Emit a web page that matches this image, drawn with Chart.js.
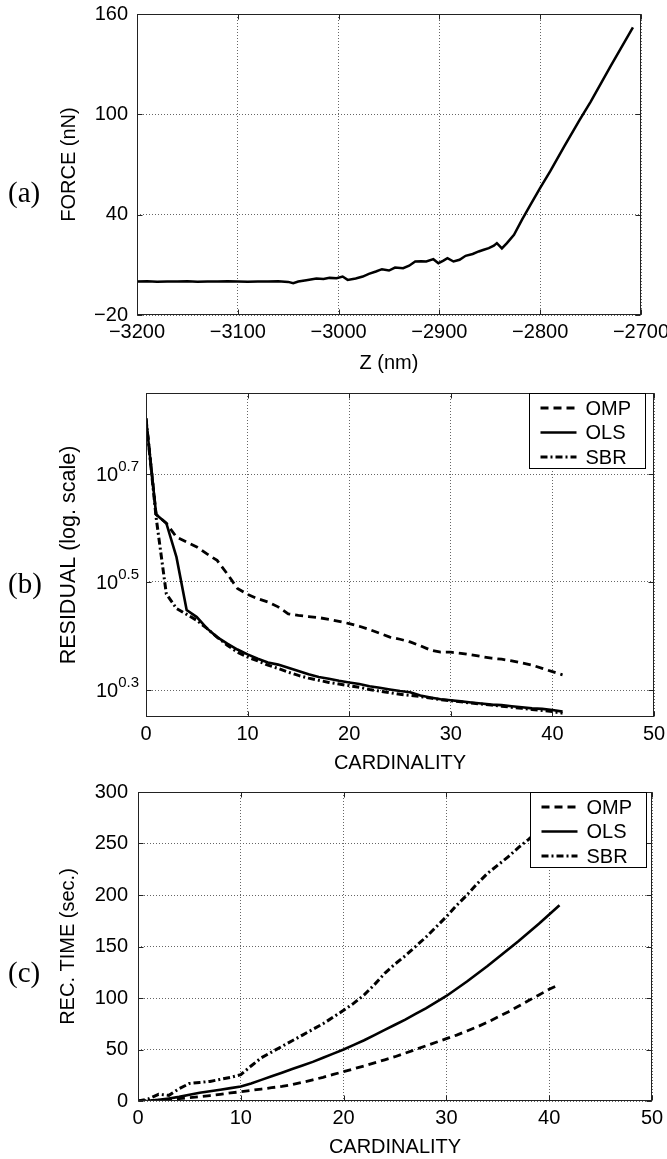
<!DOCTYPE html>
<html>
<head>
<meta charset="utf-8">
<script src="https://cdn.jsdelivr.net/npm/chart.js@4.4.0/dist/chart.umd.min.js"></script>
<style>
body { margin: 0; background: #fff; width: 667px; height: 1159px; position: relative; overflow: hidden; }
canvas { position: absolute; left: 0; }
.tag { position: absolute; left: 8px; font: 29px "Liberation Serif", "Times New Roman", serif; line-height: 30px; color: #000; }
</style>
</head>
<body>
<canvas id="chartA" width="667" height="385" style="top:0"></canvas>
<canvas id="chartB" width="667" height="400" style="top:375px"></canvas>
<canvas id="chartC" width="667" height="394" style="top:765px"></canvas>
<div class="tag" style="top:177px">(a)</div>
<div class="tag" style="top:568px">(b)</div>
<div class="tag" style="top:957px">(c)</div>
<script>
// (a) force curve
const zNm = [-3200, -3190, -3180, -3170, -3160, -3150, -3140, -3130, -3120, -3110, -3100, -3090, -3080, -3070, -3060, -3050,
  -3045, -3040, -3032, -3022, -3015, -3009, -3002, -2996, -2991, -2983, -2976, -2970, -2963, -2957, -2950, -2944, -2936,
  -2930, -2924, -2918, -2913, -2906, -2901, -2896, -2892, -2886, -2880, -2874, -2867, -2861, -2856, -2851, -2846, -2843,
  -2838, -2833, -2826, -2818, -2810, -2800, -2790, -2776, -2761, -2750, -2730, -2720, -2708];
const forceNn = [0, 0.2, -0.1, 0.1, 0, 0.2, -0.1, 0.1, 0, 0.2, 0, -0.1, 0.1, 0, 0.2, -0.2,
  -1, 0, 0.8, 1.8, 1.5, 2.2, 2.0, 3, 1, 1.8, 3, 4.6, 6, 7.4, 6.6, 8.4, 8,
  9.5, 12, 12.2, 12, 13.4, 11, 12.5, 14, 12, 13, 15.4, 16.5, 18, 19, 20, 21.5, 23,
  19.8, 23, 28, 37, 45.5, 56, 66, 81, 96.5, 107.5, 129, 139.5, 152];
const forceTicks = [-20, 40, 100, 160];

// (b) and (c)
const cardinality = [0, 1, 2, 3, 4, 5, 6, 7, 8, 9, 10, 11, 12, 13, 14, 15, 16, 17, 18, 19, 20,
  21, 22, 23, 24, 25, 26, 27, 28, 29, 30, 31, 32, 33, 34, 35, 36, 37, 38, 39, 40, 41];
const methods = ['OMP', 'OLS', 'SBR'];

// residual, as log10 exponent
const residualExpOmp = [0.803, 0.625, 0.609, 0.583, 0.574, 0.565, 0.552, 0.540, 0.515, 0.488, 0.477, 0.469, 0.463, 0.454,
  0.441, 0.438, 0.436, 0.434, 0.431, 0.427, 0.423, 0.418, 0.412, 0.405, 0.398, 0.394, 0.389, 0.382, 0.374, 0.370, 0.370,
  0.368, 0.365, 0.362, 0.359, 0.357, 0.354, 0.350, 0.346, 0.340, 0.334, 0.328];
const residualExpOls = [0.803, 0.625, 0.609, 0.546, 0.448, 0.435, 0.414, 0.398, 0.386, 0.375, 0.366, 0.358, 0.351, 0.347,
  0.341, 0.335, 0.329, 0.324, 0.321, 0.317, 0.314, 0.311, 0.307, 0.304, 0.301, 0.298, 0.296, 0.290, 0.286, 0.283, 0.281,
  0.279, 0.277, 0.275, 0.273, 0.272, 0.270, 0.268, 0.266, 0.265, 0.263, 0.260];
const residualExpSbr = [0.803, 0.619, 0.478, 0.451, 0.440, 0.429, 0.414, 0.398, 0.383, 0.370, 0.361, 0.354, 0.346, 0.340,
  0.333, 0.327, 0.322, 0.318, 0.314, 0.311, 0.308, 0.305, 0.301, 0.298, 0.295, 0.292, 0.290, 0.288, 0.285, 0.282, 0.280,
  0.278, 0.276, 0.274, 0.272, 0.270, 0.268, 0.266, 0.264, 0.262, 0.260, 0.257];
const residualExpTicks = [0.3, 0.5, 0.7];

// reconstruction time, seconds
const timeOmp = [0, 0.3, 0.8, 1.5, 2.3, 3.2, 4.2, 5.3, 6.5, 7.8, 9, 10.3, 11.6, 12.9, 14.2, 16, 18.2, 20.5, 23, 25.8, 28.5,
  31.3, 34, 37, 40, 43, 46.5, 50, 53.5, 57, 60.5, 64, 68, 72, 76.5, 81.5, 86.5, 92, 97.5, 103, 108.5, 113];
const timeOls = [0, 0.3, 1.2, 2.5, 4, 6, 8, 9.5, 11, 12.5, 14, 17, 20.5, 24, 27.5, 31, 34.5, 38, 42, 46, 50,
  54.5, 59, 64, 69, 74, 79, 84.5, 90, 96, 102, 109, 116, 123.5, 131, 139, 147, 155, 163.5, 172, 181, 190];
const timeSbr = [0, 2, 6.5, 5.5, 12, 17, 18, 19, 21, 23, 25.5, 34, 42, 47.5, 53, 58.5, 64, 69.5, 75, 81.5, 88,
  95, 103, 113, 124, 133, 141, 150, 159, 169, 179, 190, 200, 211, 221, 229, 237, 246, 254, 263, 272, 281];

const FONT = '"Liberation Sans", Arial, sans-serif';
Chart.defaults.font.family = FONT;
Chart.defaults.font.size = 20;
Chart.defaults.color = '#000';

const styles = {
  OMP: { borderDash: [8, 5], borderWidth: 2.8 },
  OLS: { borderDash: [], borderWidth: 2.6 },
  SBR: { borderDash: [7, 3, 2, 3], borderWidth: 3 }
};

function pairs(xs, ys) {
  return xs.map((x, i) => ({ x: x, y: ys[i] }));
}
function minus(v) {
  return String(v).replace('-', '\u2212');
}

// matlab style frame with inward ticks
const framePlugin = {
  id: 'frame',
  afterDraw(chart) {
    const { ctx, chartArea: a, scales } = chart;
    const l = Math.round(a.left) + 0.5, r = Math.round(a.right) - 0.5;
    const t = Math.round(a.top) + 0.5, b = Math.round(a.bottom) - 0.5;
    ctx.save();
    ctx.strokeStyle = '#222';
    ctx.lineWidth = 1;
    ctx.beginPath();
    scales.x.ticks.forEach(tk => {
      const px = Math.round(scales.x.getPixelForValue(tk.value)) + 0.5;
      ctx.moveTo(px, b); ctx.lineTo(px, b - 5);
      ctx.moveTo(px, t); ctx.lineTo(px, t + 5);
    });
    scales.y.ticks.forEach(tk => {
      const py = Math.round(scales.y.getPixelForValue(tk.value)) + 0.5;
      ctx.moveTo(l, py); ctx.lineTo(l + 5, py);
      ctx.moveTo(r, py); ctx.lineTo(r - 5, py);
    });
    ctx.stroke();
    ctx.strokeRect(l, t, r - l, b - t);
    ctx.restore();
  }
};

const legendPlugin = {
  id: 'boxLegend',
  afterDraw(chart, args, opts) {
    if (!opts.show) return;
    const { ctx, chartArea: a } = chart;
    const w = 116, h = 75;
    const x = Math.round(a.right - opts.right - w) + 0.5, y = Math.round(a.top) + 0.5;
    ctx.save();
    ctx.fillStyle = '#fff';
    ctx.fillRect(x, y, w, h);
    ctx.strokeStyle = '#000';
    ctx.lineWidth = 1;
    ctx.strokeRect(x, y, w, h);
    chart.data.datasets.forEach((ds, i) => {
      const ly = y + 14.5 + i * 24.5;
      ctx.beginPath();
      ctx.setLineDash(ds.borderDash);
      ctx.lineWidth = ds.borderWidth;
      ctx.strokeStyle = '#000';
      ctx.moveTo(x + 11, ly);
      ctx.lineTo(x + 47, ly);
      ctx.stroke();
      ctx.setLineDash([]);
      ctx.fillStyle = '#000';
      ctx.font = '20px ' + FONT;
      ctx.textBaseline = 'middle';
      ctx.fillText(ds.label, x + 56, ly + 1);
    });
    ctx.restore();
  }
};

// 10^x labels on the log axis
const powerLabels = {
  id: 'powerLabels',
  afterDraw(chart, args, opts) {
    if (!opts.show) return;
    const { ctx, chartArea: a, scales } = chart;
    ctx.save();
    ctx.fillStyle = '#000';
    ctx.textAlign = 'right';
    ctx.textBaseline = 'middle';
    residualExpTicks.forEach(e => {
      const py = scales.y.getPixelForValue(Math.pow(10, e));
      const right = a.left - 7;
      const sup = e.toFixed(1);
      ctx.font = '15px ' + FONT;
      const sw = ctx.measureText(sup).width;
      ctx.fillText(sup, right, py - 7);
      ctx.font = '20px ' + FONT;
      ctx.fillText('10', right - sw, py + 1);
    });
    ctx.restore();
  }
};

function gridOpts() {
  return { color: '#666', lineWidth: 1, drawTicks: false };
}
function borderOpts() {
  return { display: false, dash: [1, 2] };
}
function fitX(h) {
  return s => { s.height = h; s.paddingLeft = 0; s.paddingRight = 0; };
}
function fitY(w) {
  return s => { s.width = w; s.paddingTop = 0; s.paddingBottom = 0; };
}

// (a)
new Chart(document.getElementById('chartA'), {
  type: 'line',
  data: {
    datasets: [{
      label: 'FORCE',
      data: pairs(zNm, forceNn),
      borderColor: '#000',
      borderWidth: 2.5,
      pointRadius: 0,
      tension: 0
    }]
  },
  options: {
    responsive: false,
    animation: false,
    layout: { padding: { left: 0, top: 14, right: 26, bottom: 0 } },
    plugins: { legend: { display: false }, tooltip: { enabled: false }, boxLegend: { show: false }, powerLabels: { show: false } },
    scales: {
      x: {
        type: 'linear', min: -3200, max: -2700,
        ticks: { stepSize: 100, padding: 5, maxRotation: 0, autoSkip: false, callback: v => minus(v) },
        grid: gridOpts(), border: borderOpts(),
        title: { display: true, text: 'Z (nm)', font: { size: 20 }, padding: { top: 0, bottom: 10 } },
        afterFit: fitX(70)
      },
      y: {
        type: 'linear', min: -20, max: 160,
        afterBuildTicks: s => { s.ticks = forceTicks.map(v => ({ value: v })); },
        ticks: { padding: 9, callback: v => minus(v) },
        grid: gridOpts(), border: borderOpts(),
        title: { display: true, text: 'FORCE (nN)', font: { size: 20 }, padding: { top: 57, bottom: 0 } },
        afterFit: fitY(137)
      }
    }
  },
  plugins: [framePlugin, legendPlugin, powerLabels]
});

// (b)
const residualSeries = [residualExpOmp, residualExpOls, residualExpSbr];
new Chart(document.getElementById('chartB'), {
  type: 'line',
  data: {
    datasets: methods.map((m, i) => ({
      label: m,
      data: pairs(cardinality, residualSeries[i].map(e => Math.pow(10, e))),
      borderColor: '#000',
      borderWidth: styles[m].borderWidth,
      borderDash: styles[m].borderDash,
      pointRadius: 0,
      tension: 0
    }))
  },
  options: {
    responsive: false,
    animation: false,
    layout: { padding: { left: 0, top: 18, right: 13, bottom: 0 } },
    plugins: { legend: { display: false }, tooltip: { enabled: false }, boxLegend: { show: true, right: 9 }, powerLabels: { show: true } },
    scales: {
      x: {
        type: 'linear', min: 0, max: 50,
        ticks: { stepSize: 10, padding: 5, maxRotation: 0, autoSkip: false },
        grid: gridOpts(), border: borderOpts(),
        title: { display: true, text: 'CARDINALITY', font: { size: 20 }, padding: { top: 0, bottom: 0 } },
        afterFit: fitX(58)
      },
      y: {
        type: 'logarithmic', min: Math.pow(10, 0.25), max: Math.pow(10, 0.85),
        afterBuildTicks: s => { s.ticks = residualExpTicks.map(e => ({ value: Math.pow(10, e) })); },
        ticks: { callback: () => '' },
        grid: gridOpts(), border: borderOpts(),
        title: { display: true, text: 'RESIDUAL (log. scale)', font: { size: 21.5 }, padding: { top: 56, bottom: 0 } },
        afterFit: fitY(146)
      }
    }
  },
  plugins: [framePlugin, legendPlugin, powerLabels]
});

// (c)
const timeSeries = [timeOmp, timeOls, timeSbr];
new Chart(document.getElementById('chartC'), {
  type: 'line',
  data: {
    datasets: methods.map((m, i) => ({
      label: m,
      data: pairs(cardinality, timeSeries[i]),
      borderColor: '#000',
      borderWidth: styles[m].borderWidth,
      borderDash: styles[m].borderDash,
      pointRadius: 0,
      tension: 0
    }))
  },
  options: {
    responsive: false,
    animation: false,
    layout: { padding: { left: 0, top: 27, right: 15, bottom: 0 } },
    plugins: { legend: { display: false }, tooltip: { enabled: false }, boxLegend: { show: true, right: 6 }, powerLabels: { show: false } },
    scales: {
      x: {
        type: 'linear', min: 0, max: 50,
        ticks: { stepSize: 10, padding: 5, maxRotation: 0, autoSkip: false },
        grid: gridOpts(), border: borderOpts(),
        title: { display: true, text: 'CARDINALITY', font: { size: 20 }, padding: { top: 0, bottom: 0 } },
        afterFit: fitX(58)
      },
      y: {
        type: 'linear', min: 0, max: 300,
        ticks: { stepSize: 50, padding: 10 },
        grid: gridOpts(), border: borderOpts(),
        title: { display: true, text: 'REC. TIME (sec.)', font: { size: 20 }, padding: { top: 56, bottom: 0 } },
        afterFit: fitY(138)
      }
    }
  },
  plugins: [framePlugin, legendPlugin, powerLabels]
});
</script>
</body>
</html>
